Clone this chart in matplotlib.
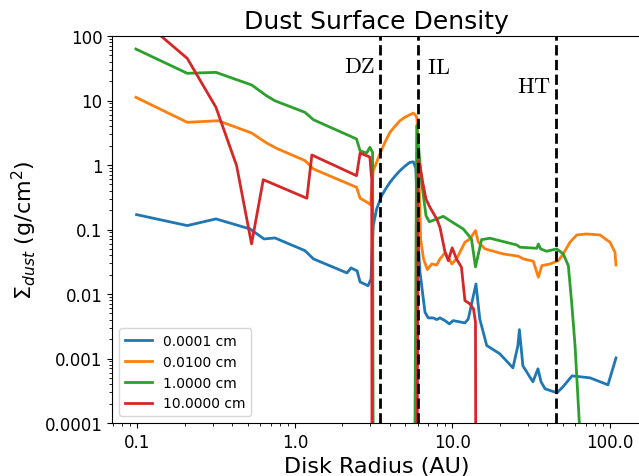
import matplotlib
matplotlib.use("Agg")
import matplotlib.pyplot as plt
import numpy as np

TINY = 1e-10  # values far below the plotted range (dust gone)

# 0.0001 cm grains
r_a = [0.0987, 0.207, 0.315, 0.518, 0.636, 0.746, 1.157, 1.31, 2.14, 2.27,
       2.48, 2.59, 2.91, 3.04, 3.08, 3.14, 3.30, 3.55, 3.73, 4.01,
       4.32, 4.64, 4.99, 5.37, 5.64, 5.85, 6.04, 6.22, 6.69, 7.02,
       7.56, 7.94, 8.33, 8.96, 9.55, 10.1, 12.0, 12.6, 14.1, 14.9,
       16.5, 20.0, 24.2, 26.0, 26.6, 28.0, 32.4, 34.9, 36.5, 38.7,
       46.1, 50.3, 57.4, 74.7, 97.1, 109.2]
s_a = [0.170, 0.115, 0.146, 0.102, 0.0714, 0.074, 0.047, 0.035, 0.0212, 0.0254,
       0.0228, 0.0154, 0.0134, 0.0171, 0.04, 0.115, 0.208, 0.334, 0.41, 0.539,
       0.675, 0.816, 0.96, 1.10, 1.12, 0.9, 0.0714, 0.0218, 0.00522, 0.00426,
       0.00426, 0.00401, 0.00426, 0.00387, 0.00344, 0.00387, 0.00356, 0.00411, 0.0143, 0.00411,
       0.00159, 0.00118, 0.000716, 0.00157, 0.0028, 0.00077, 0.000435, 0.000692, 0.000435, 0.000339,
       0.000294, 0.000364, 0.000538, 0.000501, 0.000391, 0.00102]

# 0.0100 cm grains
r_b = [0.0978, 0.207, 0.326, 0.531, 0.661, 0.765, 1.157, 1.31, 2.46, 2.59,
       2.92, 3.02, 3.14, 3.46, 3.73, 4.01, 4.32, 4.64, 4.99, 5.64,
       5.87, 5.95, 6.1, 6.28, 6.55, 6.92, 7.38, 7.94, 8.33, 8.96,
       9.40, 9.89, 10.6, 12.0, 12.9, 14.0, 14.6, 16.1, 21.0, 26.2,
       28.2, 32.6, 35.1, 36.9, 41.6, 47.0, 50.5, 55.7, 61.5, 71.2,
       86.4, 100.0, 107.6, 109.2]
s_b = [11.2, 4.59, 4.86, 3.13, 2.19, 1.81, 1.17, 0.867, 0.451, 0.305,
       0.258, 0.24, 0.816, 1.48, 2.27, 3.21, 4.0, 4.86, 5.5, 6.39,
       5.81, 5.2, 1.0, 0.07, 0.035, 0.0239, 0.0292, 0.0282, 0.035, 0.0433,
       0.0372, 0.0292, 0.035, 0.0635, 0.0714, 0.096, 0.0635, 0.050, 0.0418, 0.0385,
       0.035, 0.0322, 0.0182, 0.0275, 0.0292, 0.0329, 0.0418, 0.0635, 0.0823, 0.0852,
       0.0823, 0.0635, 0.0444, 0.0282]

# 1.0000 cm grains
r_c = [0.0978, 0.207, 0.315, 0.531, 0.661, 0.746, 1.157, 1.31, 2.46, 2.59,
       2.85, 2.99, 3.11, 3.17, 5.59, 5.93, 6.37, 6.79, 7.12, 7.74,
       8.74, 9.64, 11.7, 13.2, 14.0, 15.3, 17.3, 25.6, 26.8, 34.3,
       35.1, 36.3, 39.6, 45.9, 50.5, 54.4, 57.1, 60.0, 63.9, 66.0,
       109.2]
s_c = [62.7, 26.4, 27.3, 17.4, 11.8, 9.9, 6.55, 5.03, 2.53, 1.66,
       1.53, 1.88, 1.57, TINY, TINY, 4.06, 0.539, 0.164, 0.132, 0.142,
       0.160, 0.137, 0.102, 0.0714, 0.0263, 0.0696, 0.0732, 0.0576, 0.0531, 0.0512,
       0.0597, 0.050, 0.046, 0.050, 0.0418, 0.0275, 0.00746, 0.00159, 0.0001, TINY,
       TINY]

# 10.0000 cm grains
r_d = [0.0987, 0.207, 0.315, 0.426, 0.53, 0.629, 1.19, 1.28, 2.46, 2.59,
       2.92, 2.99, 3.07, 3.10, 5.87, 6.06, 6.22, 6.47, 6.79, 7.19,
       7.94, 8.33, 8.96, 9.40, 9.96, 10.6, 11.4, 12.0, 12.9, 13.6,
       14.0, 14.2, 109.2]
s_d = [210.0, 45.0, 7.83, 0.976, 0.0598, 0.592, 0.305, 1.43, 0.683, 1.53,
       1.36, 1.32, 0.607, TINY, TINY, 1.17, 0.976, 0.54, 0.297, 0.221,
       0.146, 0.108, 0.045, 0.0329, 0.052, 0.035, 0.026, 0.0079, 0.00703, 0.00588,
       0.00366, TINY, TINY]

labels = ["0.0001 cm", "0.0100 cm", "1.0000 cm", "10.0000 cm"]

# zone boundaries (AU)
zone_r = [3.47, 6.05, 45.6]

fig = plt.figure(figsize=(6.39, 4.77), dpi=100)
ax = fig.add_axes([112 / 639, 53 / 477, 529 / 639, 387 / 477])

for r, s, lab in zip([r_a, r_b, r_c, r_d], [s_a, s_b, s_c, s_d], labels):
    ax.plot(r, s, lw=2, label=lab)

for zr in zone_r:
    ax.axvline(zr, color="k", ls="--", lw=2)

ax.text(3.22, 34, r"$\mathrm{DZ}$", math_fontfamily="cm", fontsize=16,
        ha="right", va="center")
ax.text(6.86, 33, r"$\mathrm{IL}$", math_fontfamily="cm", fontsize=16,
        ha="left", va="center")
ax.text(42.0, 16.9, r"$\mathrm{HT}$", math_fontfamily="cm", fontsize=16,
        ha="right", va="center")

ax.set_xscale("log")
ax.set_yscale("log")
ax.set_xlim(0.0689, 157.4)
ax.set_ylim(1e-4, 100)

ax.set_xticks([0.1, 1, 10, 100])
ax.set_xticklabels(["0.1", "1.0", "10.0", "100.0"])
ax.set_yticks([1e-4, 1e-3, 1e-2, 1e-1, 1, 10, 100])
ax.set_yticklabels(["0.0001", "0.001", "0.01", "0.1", "1", "10", "100"])
ax.tick_params(labelsize=12)

ax.set_title("Dust Surface Density", fontsize=18)
ax.set_xlabel("Disk Radius (AU)", fontsize=16)
ax.set_ylabel(r"$\Sigma_{dust}$ (g/cm$^2$)", fontsize=16)
ax.legend(loc="lower left", fontsize=10)

fig.savefig("out.png", dpi=100)
